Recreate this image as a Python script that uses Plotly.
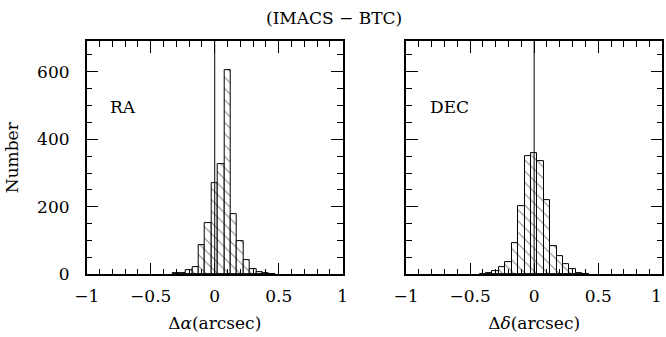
import plotly.graph_objects as go

# Histogram bin centres (bin width 0.05 arcsec) and counts
ra_centers = [-0.30, -0.25, -0.20, -0.15, -0.10, -0.05, 0.00, 0.05, 0.10, 0.15, 0.20, 0.25, 0.30, 0.35, 0.40, 0.45]
ra_counts = [3, 5, 12, 22, 88, 153, 270, 328, 605, 178, 98, 43, 16, 7, 4, 2]

dec_centers = [-0.40, -0.35, -0.30, -0.25, -0.20, -0.15, -0.10, -0.05, 0.00, 0.05, 0.10, 0.15, 0.20, 0.25, 0.30, 0.35, 0.40]
dec_counts = [2, 4, 10, 20, 35, 93, 201, 350, 358, 335, 220, 83, 55, 30, 15, 5, 2]

bin_width = 0.05
x_ticks = [-1, -0.5, 0, 0.5, 1]
x_tick_text = ["\u22121", "\u22120.5", "0", "0.5", "1"]
y_ticks = [0, 200, 400, 600]

FONT = "DejaVu Serif"
FS = 17

fig = go.Figure()


def hist_trace(centers, counts, xa, ya):
    return go.Bar(
        x=centers, y=counts, width=bin_width,
        xaxis=xa, yaxis=ya,
        marker=dict(
            color="white",
            line=dict(color="black", width=1),
            pattern=dict(shape="\\", fgcolor="black", bgcolor="white",
                         size=8, solidity=0.12),
        ),
        showlegend=False,
    )


fig.add_trace(hist_trace(ra_centers, ra_counts, "x", "y"))
fig.add_trace(hist_trace(dec_centers, dec_counts, "x2", "y2"))

common_x = dict(
    range=[-1, 1], tickmode="array", tickvals=x_ticks, ticktext=x_tick_text,
    ticks="inside", ticklen=12, tickwidth=1, tickcolor="black",
    showline=True, linecolor="black", linewidth=1.5, mirror="allticks",
    showgrid=False, zeroline=False, automargin=False,
    ticklabelstandoff=6,
    minor=dict(dtick=0.1, ticks="inside", ticklen=6, tickcolor="black", showgrid=False),
    tickfont=dict(family=FONT, size=FS, color="black"),
)
common_y = dict(
    range=[0, 691], tickmode="array", tickvals=y_ticks,
    ticks="inside", ticklen=12, tickwidth=1, tickcolor="black",
    showline=True, linecolor="black", linewidth=1.5, mirror="allticks",
    showgrid=False, zeroline=False, automargin=False,
    ticklabelstandoff=12,
    minor=dict(dtick=50, ticks="inside", ticklen=6, tickcolor="black", showgrid=False),
    tickfont=dict(family=FONT, size=FS, color="black"),
)

ydom = [0.186, 0.878]
fig.update_layout(
    width=666, height=337,
    margin=dict(l=0, r=0, t=0, b=0),
    paper_bgcolor="white", plot_bgcolor="white",
    bargap=0,
    xaxis=dict(domain=[0.1302, 0.5146], anchor="y",
               title=dict(text="\u0394<i>\u03b1</i>(arcsec)", font=dict(family=FONT, size=FS, color="black"), standoff=12),
               **common_x),
    yaxis=dict(domain=ydom, anchor="x",
               title=dict(text="Number", font=dict(family=FONT, size=FS, color="black"), standoff=14),
               **common_y),
    xaxis2=dict(domain=[0.6096, 0.9944], anchor="y2",
                title=dict(text="\u0394<i>\u03b4</i>(arcsec)", font=dict(family=FONT, size=FS, color="black"), standoff=12),
                **common_x),
    yaxis2=dict(domain=ydom, anchor="x2", showticklabels=False, **common_y),
    annotations=[
        dict(text="(IMACS \u2212 BTC)", x=0.502, y=1 - 18 / 337, xref="paper", yref="paper",
             showarrow=False, xanchor="center", yanchor="middle",
             font=dict(family=FONT, size=FS, color="black")),
        dict(text="RA", x=-0.83, y=495, xref="x", yref="y", showarrow=False,
             xanchor="left", yanchor="middle", font=dict(family=FONT, size=FS, color="black")),
        dict(text="DEC", x=-0.83, y=495, xref="x2", yref="y2", showarrow=False,
             xanchor="left", yanchor="middle", font=dict(family=FONT, size=FS, color="black")),
        # last tick label of the right panel, kept inside the page edge
        dict(text=x_tick_text[-1], x=x_ticks[-1], y=1 - 296 / 337, xref="x2", yref="paper",
             showarrow=False, xanchor="right", yanchor="middle", xshift=2,
             font=dict(family=FONT, size=FS, color="black")),
    ],
    shapes=[
        dict(type="line", xref="x", yref="y domain", x0=0, x1=0, y0=0, y1=1,
             line=dict(color="black", width=1), layer="above"),
        dict(type="line", xref="x2", yref="y2 domain", x0=0, x1=0, y0=0, y1=1,
             line=dict(color="black", width=1), layer="above"),
    ],
)

fig.write_html("out.html")
